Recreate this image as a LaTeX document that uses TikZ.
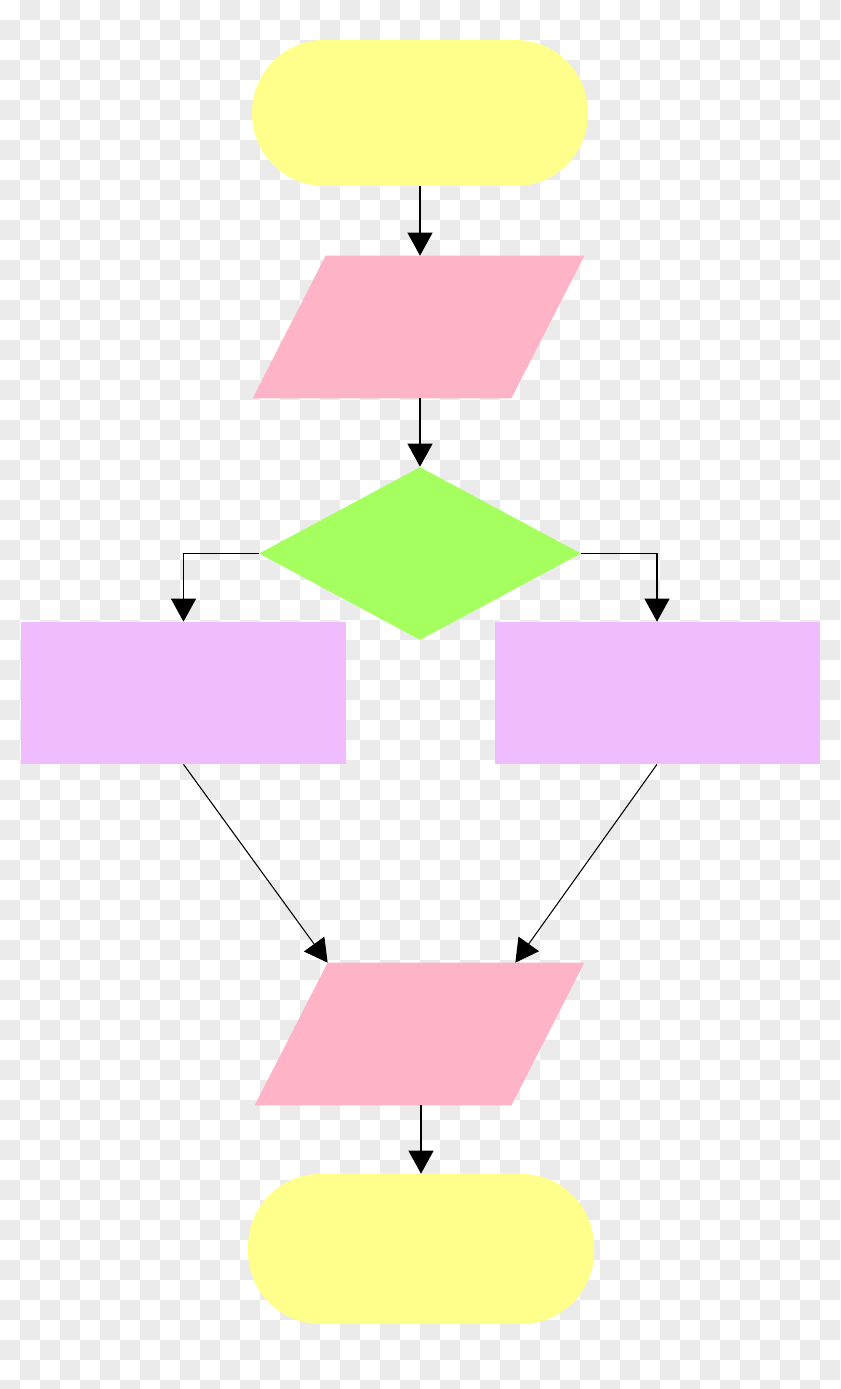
\documentclass[tikz,border=0pt]{standalone}
\usepackage{tikz}
\usetikzlibrary{arrows.meta}
\usetikzlibrary{shapes.geometric}
\definecolor{lemon}{HTML}{FFFF8C}
\definecolor{rose}{HTML}{FFB3C6}
\definecolor{lime}{HTML}{A4FF5F}
\definecolor{lilac}{HTML}{EFBDFD}
\definecolor{chk}{HTML}{EBEBEB}

\begin{document}
\begin{tikzpicture}[
	term/.style={fill=lemon, rounded corners=1.45cm, minimum width=#1, minimum height=2.92cm, inner sep=0pt},
	io/.style={rectangle, minimum width=#1, minimum height=2.84cm, inner sep=0pt},
	dec/.style={diamond, fill=lime, minimum width=6.44cm, minimum height=3.46cm, inner sep=0pt},
	proc/.style={rectangle, fill=lilac, minimum width=6.5cm, minimum height=2.84cm, inner sep=0pt},
	arr/.style={-{Triangle[width=0.5cm,length=0.46cm]}, line width=0.6pt}]
	\useasboundingbox (0,0) rectangle (16.8,-27.78);
	%background
	\foreach \i in {0,...,41}
	\foreach \j in {0,...,69}{
		\pgfmathtruncatemacro\k{mod(\i+\j,2)}
		\ifnum\k=1 \fill[chk] (\i*0.4,-\j*0.4) rectangle ++(0.4,-0.4); \fi
	}
	%shapes
	\node[term=6.72cm] (start) at (8.4,-2.26) {};
	\node[io=6.62cm] (in1) at (8.37,-6.54) {};
	\node[dec] (dec) at (8.4,-11.07) {};
	\node[proc] (lbox) at (3.67,-13.86) {};
	\node[proc] (rbox) at (13.14,-13.86) {};
	\node[io=6.58cm] (out1) at (8.39,-20.68) {};
	\node[term=6.92cm, minimum height=3cm] (stop) at (8.42,-24.98) {};
	%parallelograms
	\foreach \p in {in1, out1}
	\fill[rose] ([xshift=1.46cm]\p.north west) -- (\p.north east)
	-- ([xshift=-1.46cm]\p.south east) -- (\p.south west) -- cycle;
	%arrows
	\draw[arr] (start.south) -- (start.south |- in1.north);
	\draw[arr] (dec.north |- in1.south) -- (dec.north);
	\draw[arr] (dec.west) -| (lbox.north);
	\draw[arr] (dec.east) -| (rbox.north);
	\draw[arr] (lbox.south) -- ([xshift=1.46cm]out1.north west);
	\draw[arr] (rbox.south) -- ([xshift=-1.38cm]out1.north east);
	\draw[arr] (stop.north |- out1.south) -- (stop.north);
\end{tikzpicture}
\end{document}
